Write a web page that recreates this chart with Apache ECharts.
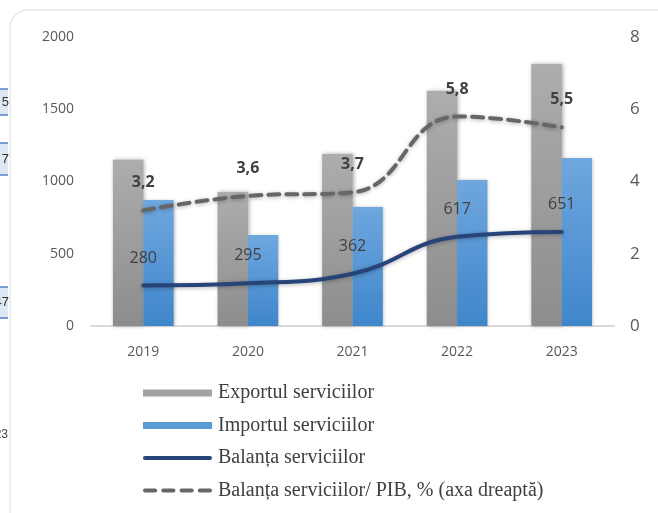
<!DOCTYPE html>
<html><head><meta charset="utf-8">
<script src="https://cdn.jsdelivr.net/npm/echarts@6/dist/echarts.min.js"></script>
<style>html,body{margin:0;padding:0;background:#fff}#c{width:658px;height:513px}</style>
</head><body><div id="c"></div>
<script>
const years = ['2019','2020','2021','2022','2023'];
const exportVals = [1150, 927, 1190, 1626, 1813];
const importVals = [872, 630, 823, 1010, 1163];
const balanceVals = [280, 295, 362, 617, 651];
const balancePibVals = [3.2, 3.6, 3.7, 5.8, 5.5];
const leftTicks = [0, 500, 1000, 1500, 2000];
const rightTicks = [0, 2, 4, 6, 8];

const chart = echarts.init(document.getElementById('c'), null, {renderer:'canvas'});
const grayGrad = new echarts.graphic.LinearGradient(0,0,0,1,[{offset:0,color:'#adadad'},{offset:1,color:'#8d8d8d'}]);
const blueGrad = new echarts.graphic.LinearGradient(0,0,0,1,[{offset:0,color:'#6fa7de'},{offset:1,color:'#3f86cb'}]);
const sideBox = (y,h,t)=>[
  {type:'rect',shape:{x:0,y:y,width:8,height:h},style:{fill:'#dde8f5'},z:0},
  {type:'line',shape:{x1:0,y1:y,x2:8,y2:y},style:{stroke:'#4f7fc8',lineWidth:1.5}},
  {type:'line',shape:{x1:0,y1:y+h,x2:8,y2:y+h},style:{stroke:'#4f7fc8',lineWidth:1.5}},
  {type:'text',style:{x:9,y:y+h/2,text:t,fill:'#333',font:'13px "Liberation Sans"',align:'right',verticalAlign:'middle'}}
];
const barIcon = 'path://M0,0H68V7H0Z';
const lineIcon = 'path://M2,0H66A2,2 0 0 1 66,4H2A2,2 0 0 1 2,0Z';
const dashIcon = 'path://M2,0H12A2,2 0 0 1 12,4H2A2,2 0 0 1 2,0ZM20,0H30A2,2 0 0 1 30,4H20A2,2 0 0 1 20,0ZM38,0H48A2,2 0 0 1 48,4H38A2,2 0 0 1 38,0ZM56,0H66A2,2 0 0 1 66,4H56A2,2 0 0 1 56,0Z';
const hiddenPts = {symbol:'circle',symbolSize:1,showSymbol:true};
chart.setOption({
  animation:false,
  textStyle:{fontFamily:'"Open Sans","DejaVu Sans",sans-serif'},
  graphic:[
    {type:'rect',shape:{x:10,y:10,width:700,height:560,r:18},style:{fill:'none',stroke:'#d9d9d9',lineWidth:1}},
    ...sideBox(89,26,'5'),
    ...sideBox(143,32,'7'),
    ...sideBox(287,31,'47'),
    {type:'text',style:{x:8,y:435,text:'23',fill:'#444',font:'12px "Liberation Sans"',align:'right',verticalAlign:'middle'}}
  ],
  grid:{left:91,right:44,top:37,bottom:187},
  legend:{
    orient:'vertical',left:143,top:383,itemGap:12.5,itemWidth:69,itemHeight:20,padding:0,
    textStyle:{fontFamily:'"Liberation Serif","DejaVu Serif",serif',fontSize:20,color:'#404040',padding:[0,0,0,1]},
    data:[
      {name:'Exportul serviciilor',icon:barIcon,itemStyle:{color:'#a3a3a3',opacity:1}},
      {name:'Importul serviciilor',icon:barIcon,itemStyle:{color:'#5b9bd5',opacity:1}},
      {name:'Balanța serviciilor',icon:lineIcon,itemStyle:{color:'#264478',opacity:1}},
      {name:'Balanța serviciilor/ PIB, % (axa dreaptă)',icon:dashIcon,itemStyle:{color:'#666666',opacity:1}}
    ]
  },
  xAxis:{type:'category',data:years,
    axisLine:{lineStyle:{color:'#d9d9d9',width:2}},axisTick:{show:false},
    axisLabel:{color:'#595959',fontSize:14,margin:19}},
  yAxis:[
    {type:'value',min:leftTicks[0],max:leftTicks[leftTicks.length-1],interval:500,
      splitLine:{show:false},axisLine:{show:false},axisTick:{show:false},
      axisLabel:{color:'#595959',fontSize:14,margin:17,formatter:v=>String(v)}},
    {type:'value',min:rightTicks[0],max:rightTicks[rightTicks.length-1],interval:2,
      splitLine:{show:false},axisLine:{show:false},axisTick:{show:false},
      axisLabel:{color:'#595959',fontSize:17,margin:16,formatter:v=>String(v)}}
  ],
  series:[
    {name:'Exportul serviciilor',type:'bar',data:exportVals,barGap:'0%',barCategoryGap:'42%',
      itemStyle:{color:grayGrad,shadowBlur:4,shadowColor:'rgba(0,0,0,0.35)',shadowOffsetX:1}},
    {name:'Importul serviciilor',type:'bar',data:importVals,
      itemStyle:{color:blueGrad,shadowBlur:3,shadowColor:'rgba(0,0,0,0.25)',shadowOffsetX:1}},
    {name:'Balanța serviciilor',type:'line',data:balanceVals,smooth:0.45,...hiddenPts,
      lineStyle:{color:'#264478',width:4,cap:'round',shadowBlur:4,shadowColor:'rgba(0,0,0,0.3)',shadowOffsetY:1},
      itemStyle:{color:'rgba(0,0,0,0)',borderWidth:0},
      label:{show:true,position:'top',distance:19,color:'#404040',fontSize:16}},
    {name:'Balanța serviciilor/ PIB, % (axa dreaptă)',type:'line',yAxisIndex:1,data:balancePibVals,smooth:0.45,...hiddenPts,
      lineStyle:{color:'#666666',width:4,type:[11,7],cap:'round',shadowBlur:4,shadowColor:'rgba(0,0,0,0.3)',shadowOffsetY:1},
      itemStyle:{color:'rgba(0,0,0,0)',borderWidth:0},
      label:{show:true,position:'top',distance:19,color:'#404040',fontSize:16,fontWeight:'bold',
        formatter:p=>String(p.value).replace('.',',')}}
  ]
});
</script></body></html>
